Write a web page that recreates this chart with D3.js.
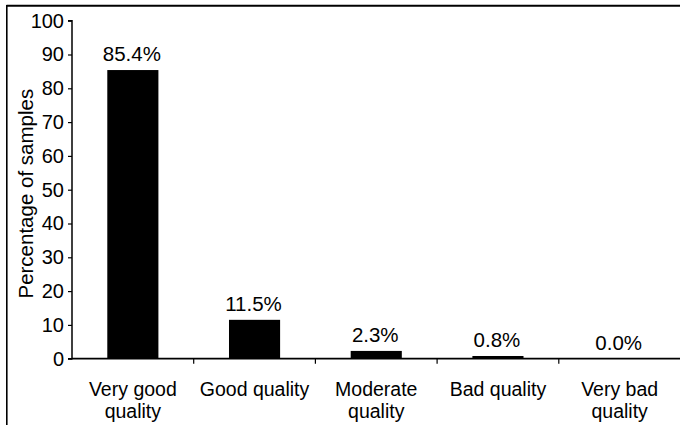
<!DOCTYPE html>
<html><head><meta charset="utf-8">
<script src="https://cdn.jsdelivr.net/npm/d3@7"></script>
<style>body{margin:0;background:#fff}svg{display:block}</style>
</head><body>
<svg id="c" width="680" height="425"></svg>
<script>
const categories = [["Very good","quality"],["Good quality"],["Moderate","quality"],["Bad quality"],["Very bad","quality"]];
const values = [85.4, 11.5, 2.3, 0.8, 0.0];
const valueLabels = ["85.4%","11.5%","2.3%","0.8%","0.0%"];
const yTicks = [0,10,20,30,40,50,60,70,80,90,100];
const yTitle = "Percentage of samples";

(function(){
const svg = d3.select("#c");
const font = "'Liberation Sans', Arial, sans-serif";
const pLeft = 72, pRight = 680.5, pTop = 20.7, pBottom = 358.7;

// frame
svg.append("line").attr("x1",6.5).attr("x2",680).attr("y1",5.8).attr("y2",5.8).attr("stroke","#000").attr("stroke-width",2);
svg.append("line").attr("x1",6.8).attr("x2",6.8).attr("y1",5).attr("y2",425).attr("stroke","#000").attr("stroke-width",1.6);

const x = d3.scaleBand().domain(d3.range(categories.length)).range([pLeft,pRight]).padding(0);
const y = d3.scaleLinear().domain([0,100]).range([pBottom,pTop]);
const bw = x.bandwidth()*0.42;

// bars
svg.append("g").selectAll("rect").data(values).join("rect")
  .attr("x",(d,i)=>x(i)+x.bandwidth()/2-bw/2)
  .attr("y",d=>y(d)).attr("width",bw).attr("height",d=>pBottom-y(d))
  .attr("fill","#000");

// value labels
svg.append("g").selectAll("text").data(values).join("text")
  .attr("x",(d,i)=>x(i)+x.bandwidth()/2-1).attr("y",d=>y(d)-9)
  .attr("text-anchor","middle").attr("font-family",font).attr("font-size",20.5)
  .text((d,i)=>valueLabels[i]);

// y axis
const ya = svg.append("g").attr("transform",`translate(${pLeft},0)`)
  .call(d3.axisLeft(y).tickValues(yTicks).tickSize(4).tickPadding(4).tickFormat(d3.format("d")));
ya.select(".domain").attr("d",`M-4,${pTop}H0V${pBottom}H-4`).attr("stroke-width",1.5);
ya.selectAll(".tick line").attr("stroke-width",1.2);
ya.selectAll("text").attr("font-family",font).attr("font-size",20).attr("fill","#000");

// x axis
const xa = svg.append("g").attr("transform",`translate(0,${pBottom})`);
xa.append("line").attr("x1",pLeft).attr("x2",pRight).attr("stroke","#000").attr("stroke-width",1.8);
xa.selectAll("line.t").data(d3.range(1,categories.length)).join("line").attr("class","t")
  .attr("x1",i=>x(i)).attr("x2",i=>x(i)).attr("y1",0).attr("y2",5).attr("stroke","#000").attr("stroke-width",1.2);
const cl = xa.selectAll("text").data(categories).join("text")
  .attr("text-anchor","middle").attr("font-family",font).attr("font-size",19.5)
  .attr("transform",(d,i)=>`translate(${x(i)+x.bandwidth()/2},37.5)`);
cl.selectAll("tspan").data(d=>d).join("tspan").attr("x",0).attr("y",(d,j)=>j*22).text(d=>d);

// y title
svg.append("text").attr("transform",`translate(33,${(pTop+pBottom)/2+4}) rotate(-90)`)
  .attr("text-anchor","middle").attr("font-family",font).attr("font-size",20.5).text(yTitle);
})();
</script>
</body></html>
